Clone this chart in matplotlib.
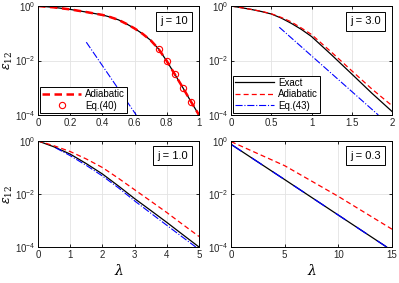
import numpy as np
import matplotlib.pyplot as plt

plt.rcParams['font.family'] = ['Liberation Sans', 'DejaVu Sans']
plt.rcParams['mathtext.fontset'] = 'dejavuserif'

# panel (a) j = 10
x_a = [0, 0.1, 0.2, 0.3, 0.4, 0.45, 0.5, 0.55, 0.6, 0.65, 0.7, 0.75, 0.8, 0.85, 0.9, 0.95, 1.0]
ex_a = [1, 0.89, 0.75, 0.6, 0.47, 0.39, 0.31, 0.22, 0.15, 0.095, 0.055, 0.026, 0.0095, 0.0031, 0.001, 3.1e-4, 1e-4]
ad_a = ex_a
x_c = [0.75, 0.8, 0.85, 0.9, 0.95]
eq40 = [0.026, 0.0092, 0.0031, 0.001, 3.1e-4]
x_a_eq = [0.3, 0.61]
eq_a = [0.047, 1e-4]

# panel (b) j = 3.0
x_b = [0, 0.125, 0.25, 0.375, 0.5, 0.625, 0.75, 0.875, 1.0, 1.25, 1.5, 1.75, 2.0]
ex_b = [1, 0.87, 0.75, 0.63, 0.51, 0.36, 0.23, 0.138, 0.076, 0.016, 0.0032, 6.3e-4, 1.35e-4]
ad_b = [1, 0.87, 0.75, 0.64, 0.52, 0.38, 0.26, 0.155, 0.09, 0.02, 0.0042, 9e-4, 2.2e-4]
x_b_eq = [0.6, 1.83]
eq_b = [0.166, 1e-4]

# panel (c) j = 1.0
x_c3 = [0, 0.5, 1, 1.5, 2, 2.5, 3, 3.5, 4, 4.5, 5]
ex_c = [1, 0.6, 0.32, 0.14, 0.057, 0.02, 0.0067, 0.0024, 8.5e-4, 2.9e-4, 1e-4]
ad_c = [1, 0.66, 0.4, 0.21, 0.1, 0.039, 0.0145, 0.0054, 0.002, 7e-4, 2.5e-4]
x_c_eq = [0.55, 1, 1.5, 2, 2.5, 3, 3.5, 4, 4.5, 4.9]
eq_c = [0.55, 0.28, 0.12, 0.048, 0.017, 0.0055, 0.0019, 6.6e-4, 2.3e-4, 1e-4]

# panel (d) j = 0.3
x_d = [0, 5, 10, 14.5]
ex_d = [0.75, 0.035, 0.0016, 1e-4]
x_d_ad = [0, 5, 10, 15]
ad_d = [0.95, 0.117, 0.0081, 4.7e-4]

jtxt = ['j = 10', 'j = 3.0', 'j = 1.0', 'j = 0.3']

fig = plt.figure(figsize=(3.99, 2.83), dpi=100)
W, H = 399, 283
def box(l, r, t, b):
    return [l / W, 1 - b / H, (r - l) / W, (b - t) / H]

axs = [fig.add_axes(box(38, 199, 6, 115)), fig.add_axes(box(231, 392, 6, 115)),
       fig.add_axes(box(38, 199, 141, 247)), fig.add_axes(box(231, 392, 141, 247))]

leg_kw = dict(loc='lower left', fontsize=7, handlelength=4, edgecolor='k', fancybox=False,
              borderpad=0.2, labelspacing=0.15, handletextpad=0.4, borderaxespad=0.25, framealpha=1)

a = axs[0]
a.plot(x_a, ex_a, 'k-', lw=0.9)
a.plot(x_a, ad_a, '--', color='r', lw=1.8, dashes=(3, 1.8), label='Adiabatic')
a.plot(x_c, eq40, 'o', mfc='none', mec='r', ms=4.5, mew=0.8, label='Eq.(40)')
a.plot(x_a_eq, eq_a, '-.', color='b', lw=0.8)
a.set_xlim(0, 1)
a.set_xticks([0, 0.2, 0.4, 0.6, 0.8, 1])
a.set_xticklabels(['0', '0.2', '0.4', '0.6', '0.8', '1'])
a.legend(**leg_kw).get_frame().set_linewidth(0.7)

b = axs[1]
b.plot(x_b, ex_b, 'k-', lw=0.9, label='Exact')
b.plot(x_b, ad_b, '--', color='r', lw=0.9, dashes=(4, 2.5), label='Adiabatic')
b.plot(x_b_eq, eq_b, '-.', color='b', lw=0.8, label='Eq.(43)')
b.set_xlim(0, 2)
b.set_xticks([0, 0.5, 1, 1.5, 2])
b.set_xticklabels(['0', '0.5', '1', '1.5', '2'])
b.legend(**leg_kw).get_frame().set_linewidth(0.7)

c = axs[2]
c.plot(x_c3, ex_c, 'k-', lw=0.9)
c.plot(x_c3, ad_c, '--', color='r', lw=0.9, dashes=(4, 2.5))
c.plot(x_c_eq, eq_c, '-.', color='b', lw=0.8)
c.set_xlim(0, 5)
c.set_xticks([0, 1, 2, 3, 4, 5])

d = axs[3]
d.plot(x_d, ex_d, 'k-', lw=0.9)
d.plot(x_d, ex_d, '-', color='b', lw=0.9, dashes=(10, 10), dash_capstyle='butt')
d.plot(x_d_ad, ad_d, '--', color='r', lw=0.9, dashes=(4, 2.5))
d.set_xlim(0, 15)
d.set_xticks([0, 5, 10, 15])

for i, ax in enumerate(axs):
    ax.set_yscale('log')
    ax.set_ylim(1e-4, 1)
    ax.set_yticks([1e-4, 1e-2, 1])
    ax.set_yticklabels([r'$\mathregular{10^{-4}}$', r'$\mathregular{10^{-2}}$', r'$\mathregular{10^{0}}$'])
    ax.minorticks_off()
    ax.tick_params(labelsize=7, direction='in', length=2.5, width=0.6, top=True, right=True,
                   pad=2, labelcolor='#262626')
    ax.grid(True, color='#e3e3e3', lw=0.6)
    ax.set_axisbelow(True)
    for s in ax.spines.values():
        s.set_linewidth(0.7)
    ax.text(0.93, 0.86, jtxt[i], transform=ax.transAxes, ha='right', va='center', fontsize=8,
            bbox=dict(boxstyle='square,pad=0.4', fc='white', ec='k', lw=0.7))

axs[0].set_ylabel(r'$\epsilon_{12}$', fontsize=9, labelpad=0)
axs[2].set_ylabel(r'$\epsilon_{12}$', fontsize=9, labelpad=0)
axs[2].set_xlabel(r'$\lambda$', fontsize=10, labelpad=2)
axs[3].set_xlabel(r'$\lambda$', fontsize=10, labelpad=2)

fig.savefig('out.png', dpi=100)
